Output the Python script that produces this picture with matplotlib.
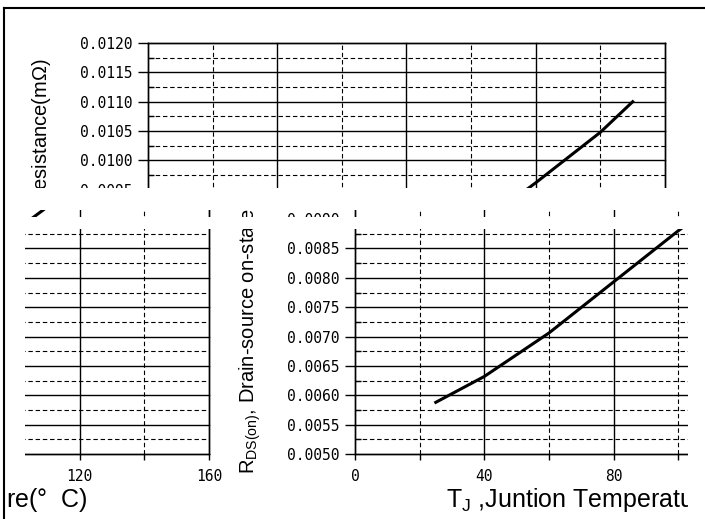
import numpy as np
import matplotlib
matplotlib.use('Agg')
import matplotlib.pyplot as plt
from matplotlib.ticker import FixedLocator
from matplotlib.transforms import Bbox, TransformedBbox
from matplotlib.lines import Line2D

plt.rcParams['font.family'] = ['Liberation Sans', 'DejaVu Sans']
plt.rcParams['mathtext.fontset'] = 'custom'
plt.rcParams['mathtext.rm'] = 'Liberation Sans'
plt.rcParams['mathtext.it'] = 'Liberation Sans:italic'

# curve
tj = [25, 40, 60, 80, 100, 120, 140, 150]
rds = [0.00588, 0.00632, 0.00706, 0.00793, 0.00880, 0.00962, 0.01048, 0.01100]

x_major = [0, 40, 80, 120, 160]
x_labels = ['0', '40', '80', '120', '160']
x_minor = [20, 60, 100, 140]
y_major = [0.0050, 0.0055, 0.0060, 0.0065, 0.0070, 0.0075, 0.0080,
           0.0085, 0.0090, 0.0095, 0.0100, 0.0105, 0.0110, 0.0115, 0.0120]
y_labels = ['%.4f' % v for v in y_major]
y_minor = [v + 0.00025 for v in y_major[:-1]]

xlabel = r'T$_{\mathregular{J}}$ ,Juntion Temperature(°  C)'
ylabel = r'R$_{\mathregular{DS(on)}}$, Drain-source on-state Resistance(mΩ)'

W, H = 705, 519
fig = plt.figure(figsize=(W / 100, H / 100), dpi=100)

# plot area of the chart in pixels (top-left origin)
AX_L, AX_R, AX_T, AX_B = 148, 665, 43, 454


def px_box(x0, y0, x1, y1):
    return TransformedBbox(Bbox.from_extents(x0 / W, 1 - y1 / H, x1 / W, 1 - y0 / H),
                           fig.transFigure)


def draw_chart(ax):
    ax.set_facecolor('none')
    ax.plot(tj, rds, color='k', lw=2.2)
    ax.set_xlim(0, 160)
    ax.set_ylim(0.0050, 0.0120)
    ax.xaxis.set_major_locator(FixedLocator(x_major))
    ax.set_xticklabels(x_labels)
    ax.xaxis.set_minor_locator(FixedLocator(x_minor))
    ax.yaxis.set_major_locator(FixedLocator(y_major))
    ax.set_yticklabels(y_labels)
    ax.yaxis.set_minor_locator(FixedLocator(y_minor))
    ax.grid(which='major', color='k', lw=1.0, ls='-')
    ax.grid(which='minor', color='k', lw=0.8, ls=(0, (4, 2.5)))
    ax.tick_params(axis='y', which='major', direction='out', length=7, width=1,
                   labelsize=10.5, pad=4, labelfontfamily='DejaVu Sans Mono')
    ax.tick_params(axis='y', which='minor', direction='in', length=4, width=1)
    ax.tick_params(axis='x', which='both', direction='out', length=4, width=1,
                   labelsize=10.5, pad=7, labelfontfamily='DejaVu Sans Mono')
    for s in ax.spines.values():
        s.set_linewidth(1.0)
    ax.set_xlabel(xlabel, fontsize=18)
    ax.set_ylabel(ylabel, fontsize=14.5)
    ax.xaxis.set_label_coords(0.4936, -0.077)
    ax.yaxis.set_label_coords(-0.177, 0.458)


# (horizontal shift in px, visible region x0, y0, x1, y1)
pieces = [
    (0, 6, 9, 705, 188),
    (207, 228, 229, 688, 519),
    (-456, 25, 229, 228, 486),
    (-480, 6, 486, 228, 519),
    (207, 228, 210, 688, 217),
    (-456, 25, 210, 228, 217),
]

axes = []
for shift, x0, y0, x1, y1 in pieces:
    ax = fig.add_axes([(AX_L + shift) / W, (H - AX_B) / H,
                       (AX_R - AX_L) / W, (AX_B - AX_T) / H])
    draw_chart(ax)
    axes.append((ax, px_box(x0, y0, x1, y1)))

fig.add_artist(Line2D([4 / W, 4 / W], [0, 1 - 8 / H], transform=fig.transFigure,
                      color='k', lw=1.5))
fig.add_artist(Line2D([4 / W, 1], [1 - 8 / H, 1 - 8 / H], transform=fig.transFigure,
                      color='k', lw=1.5))

fig.canvas.draw()
for ax, box in axes:
    for a in ax.findobj():
        if a is ax:
            continue
        a.set_clip_on(True)
        a.set_clip_path(None)
        a.set_clip_box(box)

fig.savefig('out.png', dpi=100)
